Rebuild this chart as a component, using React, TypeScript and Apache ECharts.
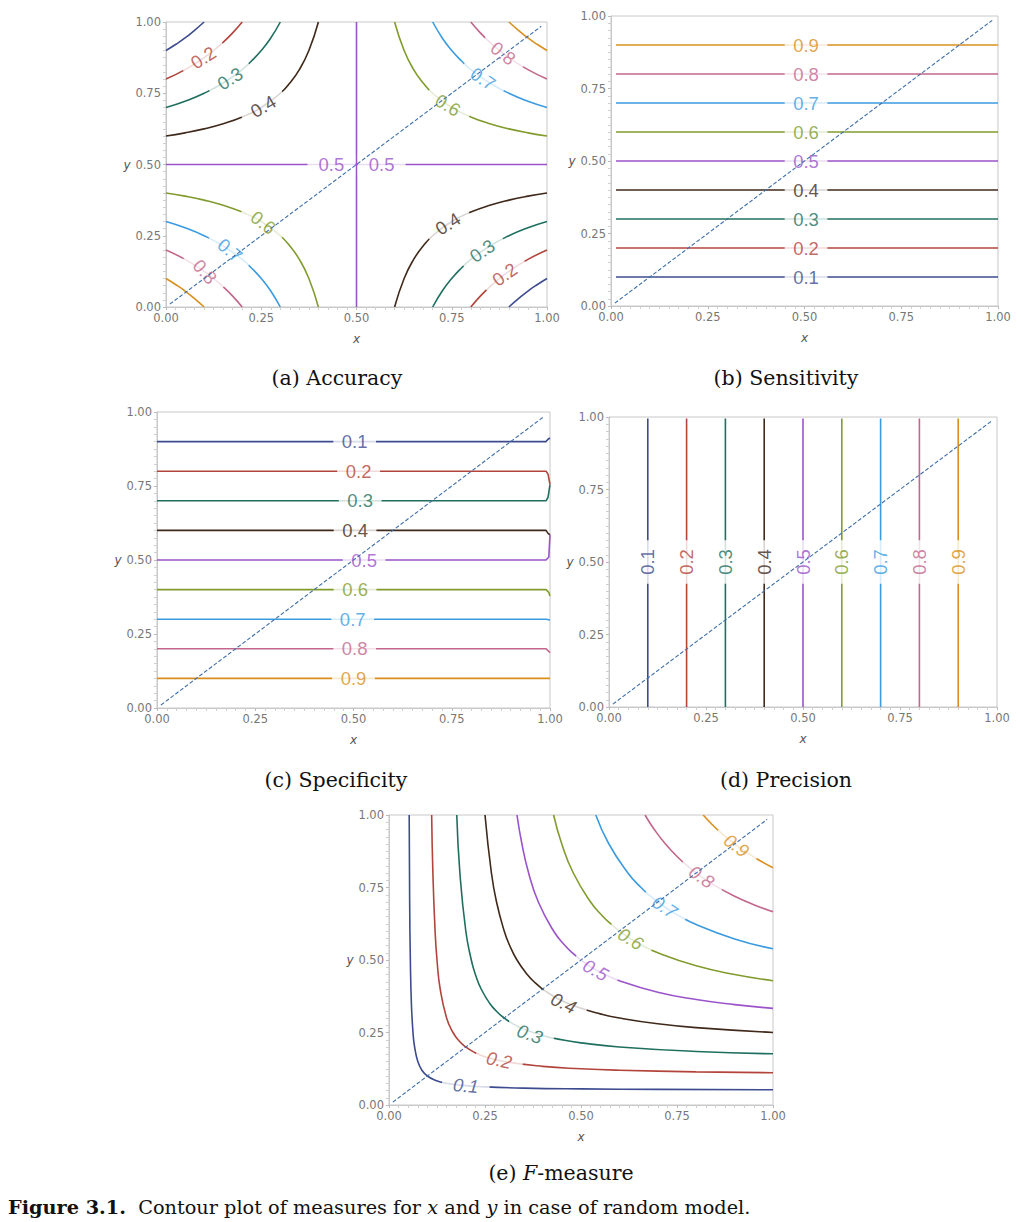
import React, { useEffect, useRef } from "react";
import * as echarts from "echarts";

// ---------- data ----------
const LEVELS = [0.1, 0.2, 0.3, 0.4, 0.5, 0.6, 0.7, 0.8, 0.9];
const COLORS = ["#3d4b8f", "#b2443b", "#1f6f5f", "#40291a", "#9b53c9", "#809c2d", "#3b9be0", "#c2668b", "#d98f1d"];
const TICK_VALUES = [0, 0.25, 0.5, 0.75, 1];
const DIAG = [[0.01, 0.01], [0.985, 0.985]];

// (a) Accuracy
const ACC_LOW_LEVELS = [0.1, 0.2, 0.3, 0.4];
const ACC_HIGH_LEVELS = [0.6, 0.7, 0.8, 0.9];
const ACC_TL = [
  [[0, 0.9], [0.025, 0.921], [0.05, 0.944], [0.075, 0.971], [0.1, 1]],
  [[0, 0.8], [0.05, 0.833], [0.1, 0.875], [0.125, 0.9], [0.15, 0.929], [0.175, 0.962], [0.2, 1]],
  [[0, 0.7], [0.05, 0.722], [0.1, 0.75], [0.15, 0.786], [0.2, 0.833], [0.225, 0.864], [0.25, 0.9], [0.275, 0.944], [0.3, 1]],
  [[0, 0.6], [0.05, 0.611], [0.1, 0.625], [0.15, 0.643], [0.2, 0.667], [0.25, 0.7], [0.3, 0.75], [0.325, 0.786], [0.35, 0.833], [0.375, 0.9], [0.4, 1]],
];
const ACC_BR = [
  [[0.9, 0], [0.925, 0.029], [0.95, 0.056], [0.975, 0.079], [1, 0.1]],
  [[0.8, 0], [0.825, 0.038], [0.85, 0.071], [0.875, 0.1], [0.9, 0.125], [0.95, 0.167], [1, 0.2]],
  [[0.7, 0], [0.725, 0.056], [0.75, 0.1], [0.775, 0.136], [0.8, 0.167], [0.85, 0.214], [0.9, 0.25], [0.95, 0.278], [1, 0.3]],
  [[0.6, 0], [0.625, 0.1], [0.65, 0.167], [0.675, 0.214], [0.7, 0.25], [0.75, 0.3], [0.8, 0.333], [0.85, 0.357], [0.9, 0.375], [0.95, 0.389], [1, 0.4]],
];
const ACC_TR = [
  [[0.6, 1], [0.625, 0.9], [0.65, 0.833], [0.675, 0.786], [0.7, 0.75], [0.75, 0.7], [0.8, 0.667], [0.85, 0.643], [0.9, 0.625], [0.95, 0.611], [1, 0.6]],
  [[0.7, 1], [0.725, 0.944], [0.75, 0.9], [0.775, 0.864], [0.8, 0.833], [0.85, 0.786], [0.9, 0.75], [0.95, 0.722], [1, 0.7]],
  [[0.8, 1], [0.825, 0.962], [0.85, 0.929], [0.875, 0.9], [0.9, 0.875], [0.95, 0.833], [1, 0.8]],
  [[0.9, 1], [0.925, 0.971], [0.95, 0.944], [0.975, 0.921], [1, 0.9]],
];
const ACC_BL = [
  [[0, 0.4], [0.05, 0.389], [0.1, 0.375], [0.15, 0.357], [0.2, 0.333], [0.25, 0.3], [0.3, 0.25], [0.325, 0.214], [0.35, 0.167], [0.375, 0.1], [0.4, 0]],
  [[0, 0.3], [0.05, 0.278], [0.1, 0.25], [0.15, 0.214], [0.2, 0.167], [0.225, 0.136], [0.25, 0.1], [0.275, 0.056], [0.3, 0]],
  [[0, 0.2], [0.05, 0.167], [0.1, 0.125], [0.125, 0.1], [0.15, 0.071], [0.175, 0.038], [0.2, 0]],
  [[0, 0.1], [0.025, 0.079], [0.05, 0.056], [0.075, 0.029], [0.1, 0]],
];
const ACC_MID = [
  [[0, 0.5], [1, 0.5]],
  [[0.5, 0], [0.5, 1]],
];
// [level, x, y, rotation]
const ACC_LABELS = [
  [0.2, 0.098, 0.875, 33], [0.3, 0.168, 0.801, 32], [0.4, 0.255, 0.704, 30],
  [0.5, 0.434, 0.5, 0], [0.5, 0.566, 0.5, 0],
  [0.8, 0.885, 0.89, -38], [0.7, 0.832, 0.801, -34], [0.6, 0.74, 0.708, -32],
  [0.6, 0.255, 0.296, -38], [0.7, 0.168, 0.199, -40], [0.8, 0.102, 0.124, -48],
  [0.4, 0.74, 0.292, 32], [0.3, 0.83, 0.197, 34], [0.2, 0.889, 0.114, 35],
];

// (b) Sensitivity
const SENS_Y = [0.1, 0.2, 0.3, 0.4, 0.5, 0.6, 0.7, 0.8, 0.9];
const SENS_X_RANGE = [0.013, 1];
const SENS_LABEL_X = 0.504;

// (c) Specificity (level -> polyline incl. edge artefact at x = 1)
const SPEC_LINES = [
  [[0, 0.9], [0.99, 0.9], [0.995, 0.908], [1, 0.912]],
  [[0, 0.8], [0.99, 0.8], [0.995, 0.79], [1, 0.755]],
  [[0, 0.7], [0.99, 0.7], [0.995, 0.712], [1, 0.755]],
  [[0, 0.6], [0.99, 0.6], [0.995, 0.59], [1, 0.585]],
  [[0, 0.5], [0.99, 0.5], [0.997, 0.51], [1, 0.585]],
  [[0, 0.4], [0.99, 0.4], [0.997, 0.39], [1, 0.378]],
  [[0, 0.3], [0.99, 0.3], [1, 0.297]],
  [[0, 0.2], [0.99, 0.2], [1, 0.187]],
  [[0, 0.1], [1, 0.1]],
];
const SPEC_LABEL_X = [0.503, 0.513, 0.517, 0.504, 0.527, 0.504, 0.498, 0.503, 0.5];
const SPEC_LABEL_Y = [0.9, 0.8, 0.7, 0.6, 0.5, 0.4, 0.3, 0.2, 0.1];

// (d) Precision
const PREC_X = [0.1, 0.2, 0.3, 0.4, 0.5, 0.6, 0.7, 0.8, 0.9];
const PREC_Y_RANGE = [0, 0.995];
const PREC_LABEL_Y = 0.5;

// (e) F-measure
const F_CURVES = [
  [[0.0526, 1], [0.0538, 0.7], [0.0556, 0.5], [0.0583, 0.35], [0.0625, 0.25], [0.0667, 0.2], [0.075, 0.15], [0.0857, 0.12], [0.1, 0.1], [0.12, 0.0857], [0.15, 0.075], [0.2, 0.0667], [0.25, 0.0625], [0.35, 0.0583], [0.5, 0.0556], [0.7, 0.0538], [1, 0.0526]],
  [[0.1111, 1], [0.1143, 0.8], [0.12, 0.6], [0.125, 0.5], [0.1333, 0.4], [0.15, 0.3], [0.1667, 0.25], [0.1833, 0.22], [0.2, 0.2], [0.22, 0.1833], [0.25, 0.1667], [0.3, 0.15], [0.4, 0.1333], [0.5, 0.125], [0.6, 0.12], [0.8, 0.1143], [1, 0.1111]],
  [[0.1765, 1], [0.1846, 0.8], [0.2, 0.6], [0.2143, 0.5], [0.225, 0.45], [0.24, 0.4], [0.2625, 0.35], [0.2824, 0.32], [0.3, 0.3], [0.32, 0.2824], [0.35, 0.2625], [0.4, 0.24], [0.45, 0.225], [0.5, 0.2143], [0.6, 0.2], [0.8, 0.1846], [1, 0.1765]],
  [[0.25, 1], [0.2667, 0.8], [0.28, 0.7], [0.3, 0.6], [0.3143, 0.55], [0.3333, 0.5], [0.36, 0.45], [0.3818, 0.42], [0.4, 0.4], [0.42, 0.3818], [0.45, 0.36], [0.5, 0.3333], [0.55, 0.3143], [0.6, 0.3], [0.7, 0.28], [0.8, 0.2667], [1, 0.25]],
  [[0.3333, 1], [0.3462, 0.9], [0.3636, 0.8], [0.3889, 0.7], [0.4286, 0.6], [0.4583, 0.55], [0.4815, 0.52], [0.5, 0.5], [0.52, 0.4815], [0.55, 0.4583], [0.6, 0.4286], [0.7, 0.3889], [0.8, 0.3636], [0.9, 0.3462], [1, 0.3333]],
  [[0.4286, 1], [0.45, 0.9], [0.48, 0.8], [0.525, 0.7], [0.5571, 0.65], [0.5813, 0.62], [0.6, 0.6], [0.62, 0.5813], [0.65, 0.5571], [0.7, 0.525], [0.8, 0.48], [0.9, 0.45], [1, 0.4286]],
  [[0.5385, 1], [0.5727, 0.9], [0.6222, 0.8], [0.6563, 0.75], [0.6811, 0.72], [0.7, 0.7], [0.72, 0.6811], [0.75, 0.6563], [0.8, 0.6222], [0.9, 0.5727], [1, 0.5385]],
  [[0.6667, 1], [0.6909, 0.95], [0.72, 0.9], [0.7556, 0.85], [0.781, 0.82], [0.8, 0.8], [0.82, 0.781], [0.85, 0.7556], [0.9, 0.72], [0.95, 0.6909], [1, 0.6667]],
  [[0.8182, 1], [0.8394, 0.97], [0.855, 0.95], [0.8809, 0.92], [0.9, 0.9], [0.92, 0.8809], [0.95, 0.855], [0.97, 0.8394], [1, 0.8182]],
];
const F_LABELS = [
  [0.1, 0.2, 0.0667, -5], [0.2, 0.287, 0.155, -12], [0.3, 0.367, 0.245, -20],
  [0.4, 0.455, 0.352, -25], [0.5, 0.538, 0.465, -29], [0.6, 0.629, 0.573, -31],
  [0.7, 0.718, 0.683, -33], [0.8, 0.814, 0.787, -35], [0.9, 0.905, 0.895, -37],
];

const CAPTIONS = ["(a) Accuracy", "(b) Sensitivity", "(c) Specificity", "(d) Precision", "(e) {i|F}-measure"];

// ---------- layout ----------
const GRIDS = [
  { left: 166, top: 22, width: 381, height: 285 },
  { left: 611, top: 16, width: 387, height: 290 },
  { left: 157, top: 412, width: 393, height: 296 },
  { left: 609, top: 417, width: 388, height: 290 },
  { left: 389, top: 815, width: 384, height: 290 },
];
const LABEL_PAD = [11, 8.5, 8.5, 9, 11];
const CAPTION_POS = [[337, 378], [786, 378], [336, 780], [786, 780], [561, 1173]];

const SANS = "DejaVu Sans";
const LABEL_FONT = "Liberation Sans";
const SERIF = "DejaVu Serif";

const colorOf = (lv: number) => COLORS[Math.round(lv * 10) - 1];

function buildOption() {
  const series: any[] = [];
  const addLine = (gi: number, pts: number[][], lv: number, smooth = false) => {
    series.push({
      type: "line",
      xAxisIndex: gi,
      yAxisIndex: gi,
      data: pts,
      symbol: "none",
      showSymbol: false,
      smooth: smooth ? 0.5 : false,
      silent: true,
      z: 2,
      lineStyle: { color: colorOf(lv), width: 1.6 },
    });
  };
  const addLabels = (gi: number, labels: number[][], italic = false) => {
    series.push({
      type: "scatter",
      xAxisIndex: gi,
      yAxisIndex: gi,
      symbolSize: 1,
      silent: true,
      z: 3,
      itemStyle: { color: "rgba(0,0,0,0)" },
      data: labels.map(([lv, x, y, rot]) => ({
        value: [x, y],
        label: {
          show: true,
          position: "inside",
          formatter: lv.toFixed(1),
          rotate: rot,
          color: colorOf(lv),
          backgroundColor: "#fff",
          padding: [1, LABEL_PAD[gi]],
          fontSize: 18.5,
          fontFamily: LABEL_FONT,
          fontStyle: italic ? "italic" : "normal",
        },
      })),
    });
  };

  // (a)
  ACC_TL.forEach((p, i) => addLine(0, p, ACC_LOW_LEVELS[i], true));
  ACC_BR.forEach((p, i) => addLine(0, p, ACC_LOW_LEVELS[i], true));
  ACC_TR.forEach((p, i) => addLine(0, p, ACC_HIGH_LEVELS[i], true));
  ACC_BL.forEach((p, i) => addLine(0, p, ACC_HIGH_LEVELS[i], true));
  ACC_MID.forEach((p) => addLine(0, p, 0.5));
  addLabels(0, ACC_LABELS);

  // (b)
  SENS_Y.forEach((y) => addLine(1, [[SENS_X_RANGE[0], y], [SENS_X_RANGE[1], y]], y));
  addLabels(1, SENS_Y.map((y) => [y, SENS_LABEL_X, y, 0]));

  // (c)
  SPEC_LINES.forEach((p, i) => addLine(2, p, LEVELS[i]));
  addLabels(2, LEVELS.map((lv, i) => [lv, SPEC_LABEL_X[i], SPEC_LABEL_Y[i], 0]));

  // (d)
  PREC_X.forEach((x) => addLine(3, [[x, PREC_Y_RANGE[0]], [x, PREC_Y_RANGE[1]]], x));
  addLabels(3, PREC_X.map((x) => [x, x, PREC_LABEL_Y, 90]));

  // (e)
  F_CURVES.forEach((p, i) => addLine(4, p, LEVELS[i], true));
  addLabels(4, F_LABELS, true);

  // diagonals
  GRIDS.forEach((_, gi) => {
    series.push({
      type: "line",
      xAxisIndex: gi,
      yAxisIndex: gi,
      data: DIAG,
      symbol: "none",
      silent: true,
      z: 5,
      lineStyle: { color: "#3f6fa8", width: 1.1, type: [4, 2] },
    });
  });

  const axisCommon = {
    type: "value",
    min: TICK_VALUES[0],
    max: TICK_VALUES[TICK_VALUES.length - 1],
    interval: TICK_VALUES[1] - TICK_VALUES[0],
    nameLocation: "middle",
    nameTextStyle: { fontStyle: "italic", color: "#555", fontSize: 12, fontFamily: SANS },
    axisLine: { show: true, lineStyle: { color: "#c8c8c8" } },
    axisTick: { show: true, length: 3, lineStyle: { color: "#bbb" } },
    minorTick: { show: true, splitNumber: 10, length: 3, lineStyle: { color: "#cfcfcf" } },
    splitLine: { show: false },
    minorSplitLine: { show: false },
  };

  const xAxis = GRIDS.map((_, gi) => ({
    ...axisCommon,
    gridIndex: gi,
    name: "x",
    nameGap: 26,
    axisLabel: { color: "#777", fontSize: 11.5, fontFamily: SANS, margin: 5, formatter: (v: number) => v.toFixed(2) },
  }));
  const yAxis = GRIDS.map((_, gi) => ({
    ...axisCommon,
    gridIndex: gi,
    name: "y",
    nameRotate: 0,
    nameGap: 35,
    axisLabel: { color: "#777", fontSize: 11.5, fontFamily: SANS, margin: 5, formatter: (v: number) => v.toFixed(2) },
  }));

  const graphic: any[] = CAPTIONS.map((t, i) => ({
    type: "text",
    x: CAPTION_POS[i][0],
    y: CAPTION_POS[i][1],
    silent: true,
    style: {
      text: t,
      fill: "#111",
      fontSize: 20.5,
      fontFamily: SERIF,
      align: "center",
      verticalAlign: "middle",
      textAlign: "center",
      textVerticalAlign: "middle",
      rich: { i: { fontStyle: "italic", fontSize: 20.5, fontFamily: SERIF, fill: "#111" } },
    },
  }));
  graphic.push({
    type: "text",
    x: 8,
    y: 1207,
    silent: true,
    style: {
      text: "{b|Figure 3.1.}  Contour plot of measures for {i|x} and {i|y} in case of random model.",
      fill: "#111",
      fontSize: 19.3,
      fontFamily: SERIF,
      align: "left",
      verticalAlign: "middle",
      textAlign: "left",
      textVerticalAlign: "middle",
      rich: {
        b: { fontWeight: "bold", fontSize: 19.3, fontFamily: SERIF, fill: "#111" },
        i: { fontStyle: "italic", fontSize: 19.3, fontFamily: SERIF, fill: "#111" },
      },
    },
  });

  return {
    animation: false,
    backgroundColor: "#fff",
    grid: GRIDS.map((g) => ({ ...g, show: true, borderColor: "#c8c8c8", borderWidth: 1, backgroundColor: "transparent" })),
    xAxis,
    yAxis,
    series,
    graphic,
  };
}

export default function App() {
  const ref = useRef<HTMLDivElement>(null);
  useEffect(() => {
    if (!ref.current) return;
    const chart = echarts.init(ref.current, undefined, { renderer: "svg" });
    chart.setOption(buildOption() as any);
    return () => chart.dispose();
  }, []);
  return (
    <div
      ref={ref}
      style={{ position: "absolute", left: 0, top: 0, width: 1021, height: 1222, background: "#fff" }}
    />
  );
}
